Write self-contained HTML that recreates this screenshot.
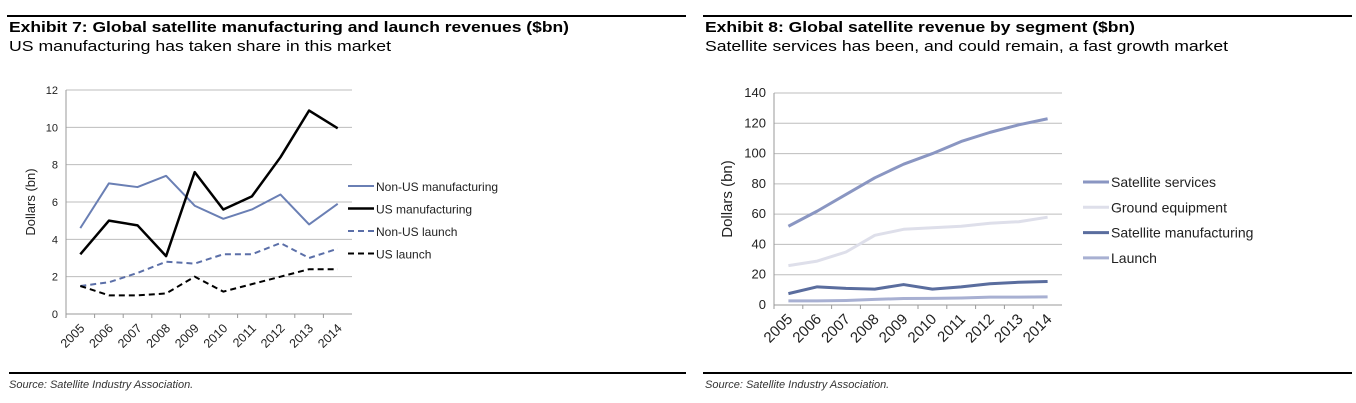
<!DOCTYPE html>
<html><head><meta charset="utf-8"><style>
body{margin:0;background:#fff}
svg{display:block;font-family:"Liberation Sans",Arial,sans-serif}
</style></head><body>
<svg id="s" width="1356" height="403" viewBox="0 0 1356 403" xmlns="http://www.w3.org/2000/svg">
<line x1="7" y1="16" x2="686" y2="16" stroke="#000" stroke-width="2"/>
<line x1="703" y1="16" x2="1352" y2="16" stroke="#000" stroke-width="2"/>
<text x="9" y="32" font-size="15" font-weight="bold" textLength="560" lengthAdjust="spacingAndGlyphs">Exhibit 7: Global satellite manufacturing and launch revenues ($bn)</text>
<text x="9" y="51" font-size="15" textLength="382" lengthAdjust="spacingAndGlyphs">US manufacturing has taken share in this market</text>
<text x="705" y="32" font-size="15" font-weight="bold" textLength="430" lengthAdjust="spacingAndGlyphs">Exhibit 8: Global satellite revenue by segment ($bn)</text>
<text x="705" y="51" font-size="15" textLength="523" lengthAdjust="spacingAndGlyphs">Satellite services has been, and could remain, a fast growth market</text>
<line x1="9" y1="373" x2="686" y2="373" stroke="#000" stroke-width="2"/>
<line x1="703" y1="373" x2="1352" y2="373" stroke="#000" stroke-width="2"/>
<text x="9" y="388" font-size="11" font-style="italic" fill="#333">Source: Satellite Industry Association.</text>
<text x="705" y="388" font-size="11" font-style="italic" fill="#333">Source: Satellite Industry Association.</text>
<g id="c1"></g><g id="c2"></g>
</svg>
<script>
const years = ["2005","2006","2007","2008","2009","2010","2011","2012","2013","2014"];
const nonUsMfg = [4.6,7.0,6.8,7.4,5.8,5.1,5.6,6.4,4.8,5.9];
const usMfg = [3.2,5.0,4.75,3.1,7.6,5.6,6.3,8.4,10.9,9.95];
const nonUsLaunch = [1.5,1.7,2.2,2.8,2.7,3.2,3.2,3.8,3.0,3.5];
const usLaunch = [1.5,1.0,1.0,1.1,2.0,1.2,1.6,2.0,2.4,2.4];
const ticks1 = [0,2,4,6,8,10,12];
const satServices = [52,62,73,84,93,100,108,114,119,123];
const groundEquip = [26,29,35,46,50,51,52,54,55,58];
const satMfg = [7.5,12,11,10.5,13.5,10.5,12,14,15,15.5];
const launch = [2.7,2.7,3,3.7,4.3,4.4,4.6,5.2,5.2,5.4];
const ticks2 = [0,20,40,60,80,100,120,140];
const NS="http://www.w3.org/2000/svg";
function mk(p,tag,a){const e=document.createElementNS(NS,tag);for(const k in a)e.setAttribute(k,a[k]);p.appendChild(e);return e;}
function chart(g,o){
  const x=i=>o.x0+(i+0.5)*(o.x1-o.x0)/years.length;
  const y=v=>o.y0-(v/o.max)*(o.y0-o.yT);
  o.ticks.forEach(t=>{
    if(t>0){const l=mk(g,"line",{x1:o.x0,x2:o.x1,y1:y(t),y2:y(t),stroke:"#bdbdbd","stroke-width":1});
    
    }
    const tx=mk(g,"text",{x:o.x0-8,y:y(t)+4,"font-size":o.fs,"text-anchor":"end",fill:"#222"});tx.textContent=t;
    
    
  });
  const ax=mk(g,"line",{x1:o.x0,x2:o.x0,y1:o.yT,y2:o.y0,stroke:"#999"});
  
  
  const bx=mk(g,"line",{x1:o.x0,x2:o.x1,y1:o.y0,y2:o.y0,stroke:"#999"});
  
  
  const w=(o.x1-o.x0)/years.length;
  years.forEach((yr,i)=>{
    const tk=mk(g,"line",{x1:o.x0+i*w,x2:o.x0+i*w,y1:o.y0,y2:o.y0+4,stroke:"#999"});
    
    
    const cx=x(i)+5,cy=o.y0+15;
    const t=mk(g,"text",{x:cx,y:cy,"font-size":o.xfs,"text-anchor":"end",transform:`rotate(-45 ${cx} ${cy})`,fill:"#222"});t.textContent=yr;
    
    
  });
  const yl=mk(g,"text",{x:0,y:0,"font-size":o.yfs,"text-anchor":"middle",transform:`translate(${o.x0-o.yoff},${(o.y0+o.yT)/2}) rotate(-90)`,fill:"#222"});yl.textContent="Dollars (bn)";
  
  
  o.series.forEach((s,k)=>{
    const p=mk(g,"polyline",{points:s.d.map((v,i)=>x(i)+","+y(v)).join(" "),fill:"none",stroke:s.c,"stroke-width":s.w,"stroke-dasharray":s.dash||"none","stroke-linejoin":"round"});
    
    
    const ly=o.ly+k*o.lstep;
    const ll=mk(g,"line",{x1:o.lx,x2:o.lx+26,y1:ly,y2:ly,stroke:s.c,"stroke-width":s.w,"stroke-dasharray":s.dash||"none"});
    
    
    const lt=mk(g,"text",{x:o.lx+28,y:ly+5,"font-size":o.lfs,fill:"#222"});lt.textContent=s.n;
    
    
  });
}
chart(document.getElementById("c1"),{x0:66,x1:352,yT:90,y0:314,max:12,ticks:ticks1,fs:11,xfs:12.5,yfs:13,yoff:31,lfs:12,lx:348,ly:186,lstep:22.5,series:[
 {n:"Non-US manufacturing",d:nonUsMfg,c:"#6a7fb4",w:2},
 {n:"US manufacturing",d:usMfg,c:"#000",w:2.5},
 {n:"Non-US launch",d:nonUsLaunch,c:"#5b6fa8",w:2,dash:"6,4"},
 {n:"US launch",d:usLaunch,c:"#000",w:2,dash:"6,4"}]});
chart(document.getElementById("c2"),{x0:774,x1:1062,yT:93,y0:305,max:140,ticks:ticks2,fs:13,xfs:15,yfs:15,yoff:42,lfs:14,lx:1083,ly:182,lstep:25.3,series:[
 {n:"Satellite services",d:satServices,c:"#8a96c2",w:3},
 {n:"Ground equipment",d:groundEquip,c:"#dedfea",w:3},
 {n:"Satellite manufacturing",d:satMfg,c:"#5a6d9e",w:3},
 {n:"Launch",d:launch,c:"#a8b0d2",w:3}]});
</script>
</body></html>
